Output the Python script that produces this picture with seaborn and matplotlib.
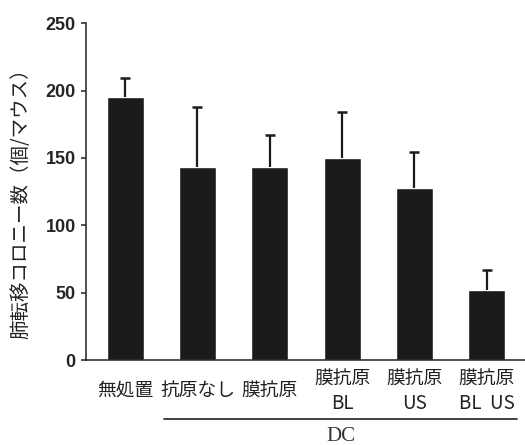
import pandas as pd
import matplotlib.pyplot as plt
import seaborn as sns
import numpy as np

# ---------------------------------------------------------
# データ
# ---------------------------------------------------------
groups = ['無処置', '抗原なし', '膜抗原', '膜抗原\nBL', '膜抗原\nUS', '膜抗原\nBL  US']
colonies = [195, 143, 143, 150, 128, 52]      # 肺転移コロニー数 平均
colonies_sd = [14, 45, 24, 34, 26, 15]        # 上側エラーバー
y_ticks = [0, 50, 100, 150, 200, 250]

JP_FONT = ['Noto Sans CJK JP', 'DejaVu Sans']

sns.set_style('ticks')
plt.rcParams['font.family'] = JP_FONT

df = pd.DataFrame({'group': groups, 'count': colonies})

fig = plt.figure(figsize=(5.25, 4.45), dpi=100)
ax = fig.add_axes([0.164, 0.191, 0.836, 0.757])

sns.barplot(data=df, x='group', y='count', color='#1b1b1b', saturation=1,
            width=0.51, errorbar=None, ax=ax)

# 上側だけのエラーバー
xpos = np.arange(len(groups))
eb = ax.errorbar(xpos, colonies, yerr=[np.zeros(len(groups)), colonies_sd],
                 fmt='none', ecolor='#1b1b1b', elinewidth=1.6, capsize=3.5, capthick=1.8)
eb[1][0].set_visible(False)  # 下側のキャップは消す

ax.set_xlim(-0.54, len(groups) - 0.47)
ax.set_ylim(0, 250)
ax.set_yticks(y_ticks)
ax.set_yticklabels([str(t) for t in y_ticks], fontsize=13, fontweight='bold',
                   family=['Liberation Sans'])
ax.tick_params(axis='y', direction='out', length=3.5, width=1.1, pad=4, color='#222222')
ax.tick_params(axis='x', length=0, pad=22)
for lbl in ax.get_xticklabels():
    lbl.set_fontsize(13.5)
    lbl.set_verticalalignment('center')
    lbl.set_linespacing(1.25)
    lbl.set_color('#222222')

ax.set_xlabel('')
ax.set_ylabel('肺転移コロニー数（個/マウス）', fontsize=14, color='#222222')
ax.yaxis.set_label_coords(-0.125, 0.478)

sns.despine(ax=ax)
for s in ['left', 'bottom']:
    ax.spines[s].set_linewidth(1.1)
    ax.spines[s].set_color('#222222')

# DC グループの下線とラベル
trans = ax.get_xaxis_transform()
ax.plot([0.54, 5.42], [-0.175, -0.175], transform=trans, color='#222222',
        lw=1.2, clip_on=False)
ax.text(2.98, -0.228, 'DC', transform=trans, ha='center', va='center',
        fontsize=15, family=['Liberation Serif'], color='#333333')

plt.savefig('out.png', dpi=100)
